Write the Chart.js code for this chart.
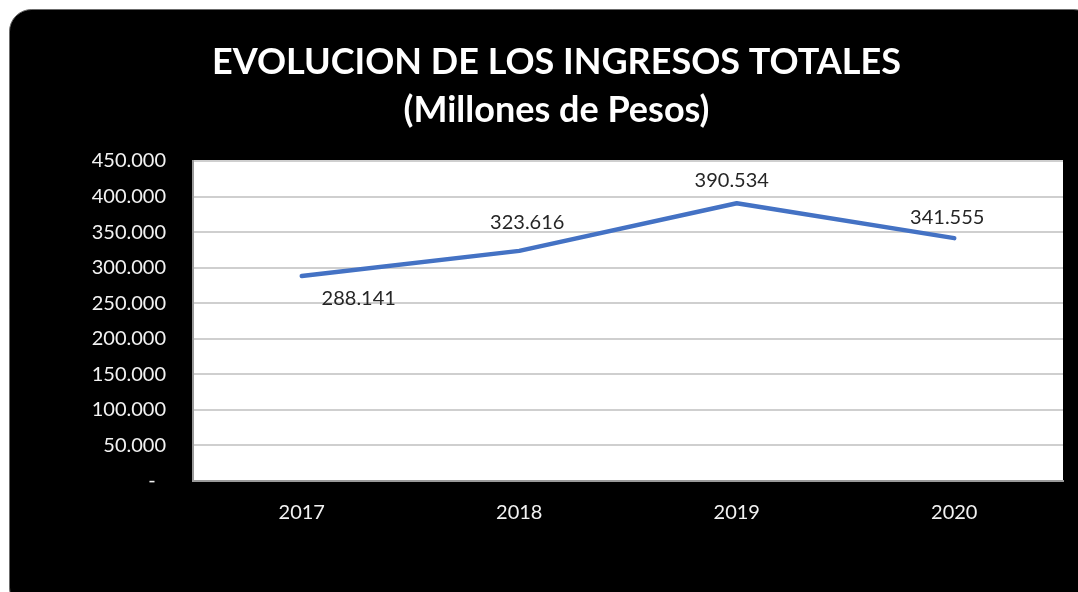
<!DOCTYPE html>
<html>
<head>
<meta charset="utf-8">
<script src="https://cdn.jsdelivr.net/npm/chart.js@4.4.1/dist/chart.umd.min.js"></script>
<style>
  html, body { margin: 0; padding: 0; background: #fff; overflow: hidden; }
  #wrap { position: relative; width: 1078px; height: 592px; }
</style>
</head>
<body>
<div id="wrap"><canvas id="ingresosChart" width="1078" height="592"></canvas></div>
<script>
// ---- DATA ----
const years = ["2017", "2018", "2019", "2020"];
const ingresos = [288141, 323616, 390534, 341555];
const titleLines = ["EVOLUCION DE LOS INGRESOS TOTALES", "(Millones de Pesos)"];

// label placement (pixel offsets from each point), style only
const labelOffsets = [[57, 22], [8, -28], [-5, -23], [-7, -21]];

const FONT = "Lato, 'Liberation Sans', sans-serif";

// number format like 288.141
function fmt(v) {
  return Math.round(v).toString().replace(/\B(?=(\d{3})+(?!\d))/g, ".");
}

// black rounded card behind everything
const cardBg = {
  id: "cardBg",
  beforeDraw(chart) {
    const ctx = chart.ctx;
    ctx.save();
    ctx.fillStyle = "#000";
    ctx.strokeStyle = "#6b6b6b";
    ctx.lineWidth = 1;
    ctx.beginPath();
    ctx.roundRect(9.5, 9.5, 1086, 600, 22);
    ctx.fill();
    ctx.stroke();
    // white plot area
    const a = chart.chartArea;
    ctx.fillStyle = "#fff";
    ctx.fillRect(a.left, a.top, a.right - a.left, a.bottom - a.top);
    ctx.restore();
  }
};

// value labels
const valueLabels = {
  id: "valueLabels",
  afterDatasetsDraw(chart) {
    const ctx = chart.ctx;
    const meta = chart.getDatasetMeta(0);
    ctx.save();
    ctx.font = "20px " + FONT;
    ctx.fillStyle = "#262626";
    ctx.textAlign = "center";
    ctx.textBaseline = "middle";
    meta.data.forEach((pt, i) => {
      const off = labelOffsets[i];
      ctx.fillText(fmt(ingresos[i]), pt.x + off[0], pt.y + off[1]);
    });
    ctx.restore();
  }
};

const ctx = document.getElementById("ingresosChart").getContext("2d");
new Chart(ctx, {
  type: "line",
  data: {
    labels: years,
    datasets: [{
      data: ingresos,
      borderColor: "#4472C4",
      borderWidth: 4.5,
      borderCapStyle: "round",
      borderJoinStyle: "round",
      pointRadius: 0,
      tension: 0,
      fill: false
    }]
  },
  options: {
    responsive: false,
    animation: false,
    devicePixelRatio: 1,
    layout: { padding: { left: 50, right: 15, top: 0, bottom: 0 } },
    plugins: {
      legend: { display: false },
      tooltip: { enabled: false },
      title: {
        display: true,
        text: titleLines,
        color: "#fff",
        font: { family: FONT, size: 36, weight: "bold", lineHeight: 1.3333 },
        padding: { top: 38, bottom: 27 }
      }
    },
    scales: {
      x: {
        offset: true,
        grid: { display: false, drawTicks: false },
        border: { display: true, color: "#9a9a9a", width: 2 },
        ticks: { color: "#f2f2f2", font: { family: FONT, size: 20 }, padding: 20 },
        afterFit(scale) { scale.height = 111; }
      },
      y: {
        min: 0,
        max: 450000,
        grid: { color: "#cfcfcf", lineWidth: 2, drawTicks: false },
        border: { display: true, color: "#9a9a9a", width: 2 },
        ticks: {
          stepSize: 50000,
          color: "#f2f2f2",
          font: { family: FONT, size: 20 },
          padding: 27,
          callback: v => v === 0 ? "-  " : fmt(v)
        },
        afterFit(scale) { scale.width = 143; }
      }
    }
  },
  plugins: [cardBg, valueLabels]
});
</script>
</body>
</html>
